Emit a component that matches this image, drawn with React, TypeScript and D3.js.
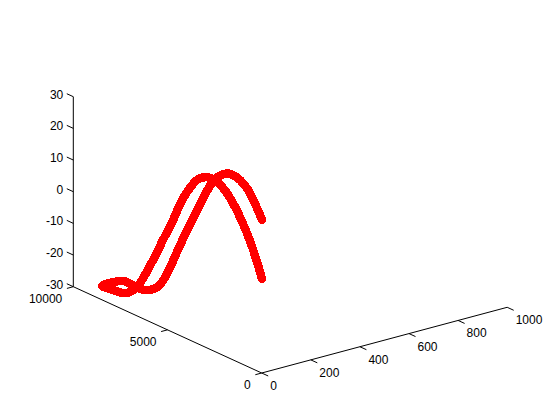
import React from "react";
import * as d3 from "d3";

const xTicks = [0, 200, 400, 600, 800, 1000];
const yTicks = [0, 5000, 10000];
const zTicks = [-30, -20, -10, 0, 10, 20, 30];

const depthValues = [
  503, 804, 1158, 1600, 2043, 2485, 2980, 3458, 3901, 4343, 4785, 5227, 5758, 6289, 6820, 7138,
  7527, 7881, 8412, 8978,
  8412, 7881, 7351, 6908, 6466, 6024, 5581, 5050, 4519, 3989, 3547, 3104, 2750, 2308, 1777, 1247, 804, 503,
];
const heightValues = [
  -2.5, 2.7, 8.0, 13.1, 17.2, 20.2, 21.8, 21.6, 19.7, 15.7, 10.3, 3.2, -4.5, -12.3, -19.5, -23.2,
  -25.8, -27.1, -27.5, -27.8,
  -25.1, -23.2, -23.1, -23.2, -22.2, -20.0, -15.1, -6.8, 1.5, 9.3, 15.7, 21.2, 24.0, 25.9, 25.8, 23.6, 19.5, 16.1,
];
const widthValue = 40;

const xScale = d3.scaleLinear().domain([0, 1000]).range([0, 245.5]);
const xRise = d3.scaleLinear().domain([0, 1000]).range([0, 65.7]);
const yScale = d3.scaleLinear().domain([0, 10000]).range([0, 188.4]);
const yRise = d3.scaleLinear().domain([0, 10000]).range([0, 86.3]);
const zRise = d3.scaleLinear().domain([-30, 30]).range([0, 190]);

const ORIGIN: [number, number] = [261.7, 373];
const project = (x: number, y: number, z: number): [number, number] => [
  ORIGIN[0] + xScale(x) - yScale(y),
  ORIGIN[1] - xRise(x) - yRise(y) - zRise(z),
];

const curve = depthValues.map((y, i) => project(widthValue, y, heightValues[i]));
const line = d3.line().curve(d3.curveCatmullRom);
const FONT = "'Liberation Sans', Arial, sans-serif";

function Seg({ a, b }: { a: [number, number]; b: [number, number] }) {
  return <line x1={a[0]} y1={a[1]} x2={b[0]} y2={b[1]} stroke="#000" strokeWidth={1} />;
}

export default function App() {
  return (
    <svg
      width={560}
      height={420}
      style={{ position: "absolute", left: 0, top: 0, background: "#fff", display: "block" }}
    >
      <g fill="none">
        <Seg a={project(0, 0, -30)} b={project(1000, 0, -30)} />
        <Seg a={project(0, 0, -30)} b={project(0, 10000, -30)} />
        <Seg a={project(0, 10000, -30)} b={project(0, 10000, 30)} />
      </g>
      {xTicks.map((t) => {
        const p = project(t, 0, -30);
        return (
          <g key={`x${t}`}>
            <Seg a={p} b={project(t, -345, -30)} />
            <text
              x={p[0] + 8.5}
              y={p[1] + 17}
              textAnchor="start"
              fontFamily={FONT}
              fontSize={12}
              fill="#000"
            >
              {t}
            </text>
          </g>
        );
      })}
      {yTicks.map((t) => {
        const p = project(0, t, -30);
        return (
          <g key={`y${t}`}>
            <Seg a={p} b={project(-26, t, -30)} />
            <text
              x={p[0] - 11}
              y={p[1] + 16}
              textAnchor="end"
              fontFamily={FONT}
              fontSize={12}
              fill="#000"
            >
              {t}
            </text>
          </g>
        );
      })}
      {zTicks.map((t) => {
        const p = project(0, 10000, t);
        return (
          <g key={`z${t}`}>
            <Seg a={p} b={project(0, 10345, t)} />
            <text
              x={p[0] - 10}
              y={p[1] + 2}
              textAnchor="end"
              fontFamily={FONT}
              fontSize={12}
              fill="#000"
            >
              {t}
            </text>
          </g>
        );
      })}
      <path
        d={line(curve) ?? ""}
        fill="none"
        stroke="#ff0000"
        strokeWidth={8.5}
        strokeLinejoin="round"
        strokeLinecap="round"
        shapeRendering="crispEdges"
      />
    </svg>
  );
}
